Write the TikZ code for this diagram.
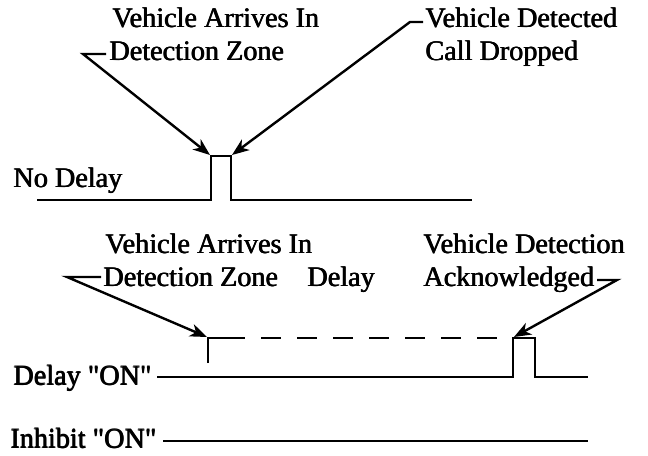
\documentclass[tikz,border=0pt]{standalone}
\usepackage{fontspec}
\setmainfont{Liberation Serif}[Ligatures=TeXOff]
\usetikzlibrary{arrows.meta}
\newcommand{\heavy}[1]{\rlap{#1}\kern0.7bp\rlap{#1}\kern-0.35bp\raisebox{0.35bp}{#1}}
\begin{document}
\begin{tikzpicture}[x=1bp,y=-1bp,
  lbl/.style={anchor=base west,inner sep=0pt,font=\fontsize{28.3}{32}\selectfont},
  sig/.style={line width=2.4bp,line join=miter,line cap=butt},
  lead/.style={line width=2.4bp,line join=miter,-{Stealth[length=17bp,width=13bp,inset=5bp]}},
  dsh/.style={sig,dash pattern=on 20bp off 16bp},
]
\useasboundingbox (0,0) rectangle (648,456);

% ---- No delay section
\node[lbl] (a1) at (112,28) {\heavy{Vehicle Arrives In}};
\node[lbl] (a2) at (109,61) {\heavy{Detection Zone}};
\node[lbl] (b1) at (425,28) {\heavy{Vehicle Detected}};
\node[lbl] (b2) at (425,61) {\heavy{Call Dropped}};
\node[lbl] (nd) at (13,188) {\heavy{No Delay}};

\coordinate (a2d) at (106,54);
\coordinate (a2e) at (83,54);
\coordinate (b1d) at (423,22);
\coordinate (b1e) at (410,22);

\coordinate (n0) at (37,200);
\coordinate (n1) at (211,200);
\coordinate (n2) at (211,156);
\coordinate (n3) at (231,156);
\coordinate (n4) at (231,200);
\coordinate (n5) at (472,200);
\draw[sig] (n0) -- (n1) -- (n2) -- (n3) -- (n4) -- (n5);

\draw[lead] (a2d) -- (a2e) -- ([shift={(-1,-1)}]n2);
\draw[lead] (b1d) -- (b1e) -- ([shift={(1,-1)}]n3);

% ---- Delay section
\node[lbl] (c1) at (105,254) {\heavy{Vehicle Arrives In}};
\node[lbl] (c2) at (103,287) {\heavy{Detection Zone}};
\node[lbl] (c3) at (307,287) {\heavy{Delay}};
\node[lbl] (d1) at (423,254) {\heavy{Vehicle Detection}};
\node[lbl] (d2) at (423,287) {\heavy{Acknowledged}};
\node[lbl] (don) at (13,385) {\heavy{Delay "ON"}};
\node[lbl] (ion) at (10,448) {\heavy{Inhibit "ON"}};

\coordinate (c2d) at (101,277);
\coordinate (c2e) at (67,277);
\coordinate (d2d) at (597,280);
\coordinate (d2e) at (617,280);

\coordinate (p0) at (208,363);
\coordinate (p1) at (208,338);
\coordinate (p2) at (245,338);
\coordinate (p3) at (261,338);
\coordinate (p4) at (497,338);
\draw[sig] (p0) -- (p1) -- (p2);
\draw[dsh] (p3) -- (p4);

\coordinate (q0) at (157,377);
\coordinate (q1) at (513,377);
\coordinate (q2) at (513,338);
\coordinate (q3) at (535,338);
\coordinate (q4) at (535,377);
\coordinate (q5) at (588,377);
\draw[sig] (q0) -- (q1) -- (q2) -- (q3) -- (q4) -- (q5);

\coordinate (i0) at (163,441);
\coordinate (i1) at (588,441);
\draw[sig] (i0) -- (i1);

\draw[lead] (c2d) -- (c2e) -- ([shift={(-1,-1)}]p1);
\draw[lead] (d2d) -- (d2e) -- ([shift={(1,-1)}]q2);
\end{tikzpicture}
\end{document}
